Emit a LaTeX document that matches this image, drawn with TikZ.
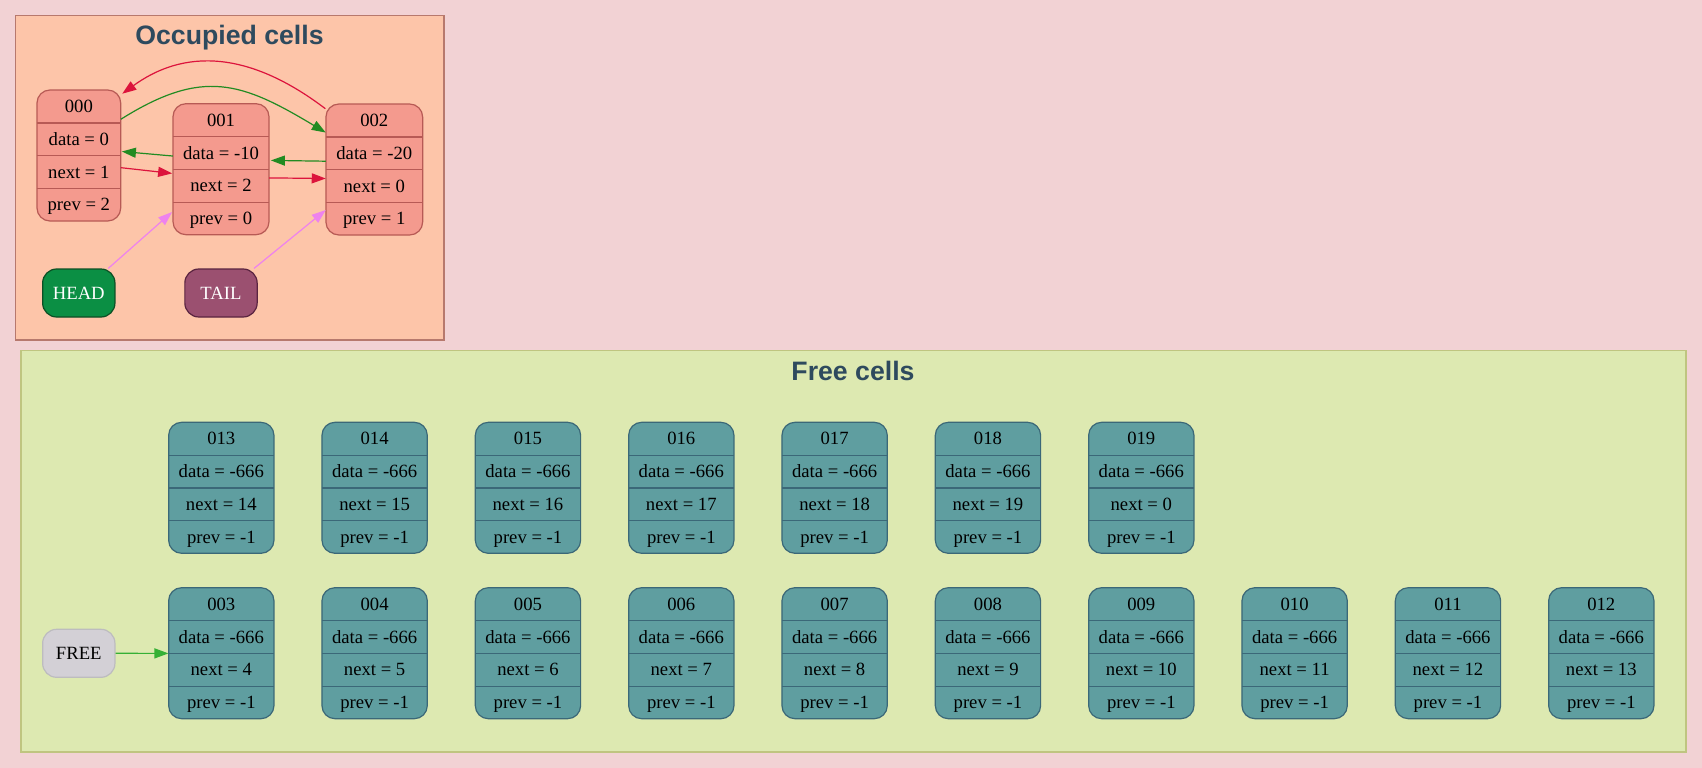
\documentclass[tikz,border=0pt]{standalone}
\usepackage{fontspec}
\setmainfont{Liberation Serif}
\newfontfamily\titlefont{Liberation Sans}
\usetikzlibrary{arrows.meta,calc}
\definecolor{bg}{HTML}{F2D2D4}
\definecolor{occfill}{HTML}{FDC5A9}
\definecolor{occbd}{HTML}{B7796D}
\definecolor{occcellfill}{HTML}{F49A8E}
\definecolor{occcellbd}{HTML}{B75A55}
\definecolor{headfill}{HTML}{0B8F44}
\definecolor{headbd}{HTML}{0C4F24}
\definecolor{tailfill}{HTML}{9B5070}
\definecolor{tailbd}{HTML}{5A2440}
\definecolor{freeclfill}{HTML}{DDE9B1}
\definecolor{freeclbd}{HTML}{BFC580}
\definecolor{freecellfill}{HTML}{5F9EA0}
\definecolor{freecellbd}{HTML}{3B6878}
\definecolor{freenodefill}{HTML}{D3D0D6}
\definecolor{freenodebd}{HTML}{BDBCBF}
\definecolor{titlec}{HTML}{2E4A5E}
\definecolor{ered}{HTML}{DC143C}
\definecolor{egreen}{HTML}{228B22}
\definecolor{eviolet}{HTML}{EE82EE}
\definecolor{efree}{HTML}{35B035}
\tikzset{
  rowtxt/.style={inner sep=0pt, minimum height=32.75pt, text height=16.4pt, text depth=4pt,
    font=\fontsize{18.67}{22}\selectfont},
  occcell/.style={draw=occcellbd, fill=occcellfill, line width=1.2pt, rounded corners=13pt,
    minimum height=131pt, inner sep=0pt},
  occcellline/.style={draw=occcellbd, line width=1.2pt},
  freecell/.style={draw=freecellbd, fill=freecellfill, line width=1.2pt, rounded corners=13pt,
    minimum height=131pt, inner sep=0pt},
  freecellline/.style={draw=freecellbd, line width=1.2pt},
  pointer/.style={rowtxt, minimum width=72.3pt, minimum height=48pt, rounded corners=14pt, line width=1.2pt},
  titlestyle/.style={font=\titlefont\bfseries\fontsize{26.67}{30}\selectfont, text=titlec, inner sep=0pt},
  edge/.style={line width=1.2pt, -{Triangle[length=14pt,width=10pt]}},
}
\newcommand\mycell[9]{%
  \node[#5, minimum width=#4pt] (#1) at (#2, #3+65.5) {};
  \node[rowtxt, minimum width=#4pt] (#1-h) at (#2, #3+16.375) {#6};
  \node[rowtxt, minimum width=#4pt] (#1-d) at (#2, #3+49.125) {#7};
  \node[rowtxt, minimum width=#4pt] (#1-n) at (#2, #3+81.875) {#8};
  \node[rowtxt, minimum width=#4pt] (#1-p) at (#2, #3+114.625) {#9};
  \draw[#5line] (#1-h.south west) -- (#1-h.south east);
  \draw[#5line] (#1-d.south west) -- (#1-d.south east);
  \draw[#5line] (#1-n.south west) -- (#1-n.south east);
}
\begin{document}
\begin{tikzpicture}[x=1pt,y=-1pt]
\useasboundingbox (0,0) rectangle (1702,768);
\fill[bg] (0,0) rectangle (1702,768);

% clusters
\draw[fill=occfill, draw=occbd, line width=1.5pt] (15.7,15.7) rectangle (444,340);
\draw[fill=freeclfill, draw=freeclbd, line width=1.5pt] (21,350.7) rectangle (1686,752);
\node[titlestyle, anchor=base] (occtitle) at (229.5,45) {Occupied cells};
\node[titlestyle, anchor=base] (freetitle) at (853,380) {Free cells};

% occupied cells
\mycell{c000}{78.85}{90}{83.7}{occcell}{000}{data = 0}{next = 1}{prev = 2}
\mycell{c001}{221}{103.7}{96}{occcell}{001}{data = -10}{next = 2}{prev = 0}
\mycell{c002}{374.3}{104}{96.7}{occcell}{002}{data = -20}{next = 0}{prev = 1}

\node[pointer, draw=headbd, fill=headfill, text=white] (head) at (78.8,293) {HEAD};
\node[pointer, draw=tailbd, fill=tailfill, text=white] (tail) at (221,293) {TAIL};

% free cells
\foreach \lab/\nx [count=\k from 0] in {013/14,014/15,015/16,016/17,017/18,018/19,019/0} {
  \pgfmathsetmacro\cx{221.3+\k*153.333}
  \mycell{c\lab}{\cx}{422.3}{105.3}{freecell}{\lab}{data = -666}{next = \nx}{prev = -1}
}
\foreach \lab/\nx [count=\k from 0] in {003/4,004/5,005/6,006/7,007/8,008/9,009/10,010/11,011/12,012/13} {
  \pgfmathsetmacro\cx{221.3+\k*153.333}
  \mycell{c\lab}{\cx}{587.7}{105.3}{freecell}{\lab}{data = -666}{next = \nx}{prev = -1}
}
\node[pointer, draw=freenodebd, fill=freenodefill, text=black] (free) at (78.8,653.3) {FREE};

% edges
\draw[edge, egreen] ([yshift=3.7pt]c000-h.south east) .. controls (203,67.6) and (241.9,82.3) .. ([yshift=4.4pt]c002-h.south west);
\draw[edge, ered] ([yshift=-5.3pt]c002.north west) .. controls (257.5,57.1) and (191,43.9) .. ([xshift=1pt,yshift=-4.3pt]c000.north east);
\draw[edge, egreen] ([yshift=-3.2pt]c001-d.west) -- ([xshift=1pt,yshift=3.8pt]c000-n.north east);
\draw[edge, ered] ([yshift=4.2pt]c000-n.east) -- ([xshift=-0.7pt,yshift=-4pt]c001-d.south west);
\draw[edge, egreen] ([yshift=8.5pt]c002-d.south west) -- ([xshift=1.7pt,yshift=9pt]c001-d.south east);
\draw[edge, ered] ([yshift=-8.5pt]c001-d.south east) -- ([yshift=-8.8pt]c002-d.south west);
\draw[edge, eviolet] ([xshift=-7.3pt]head.north east) -- ([xshift=-0.7pt,yshift=6.3pt]c001-p.west);
\draw[edge, eviolet] ([xshift=-3.7pt]tail.north east) -- ([yshift=8.6pt]c002-p.west);
\draw[edge, efree] (free.east) -- (c003-d.south west);
\end{tikzpicture}
\end{document}
